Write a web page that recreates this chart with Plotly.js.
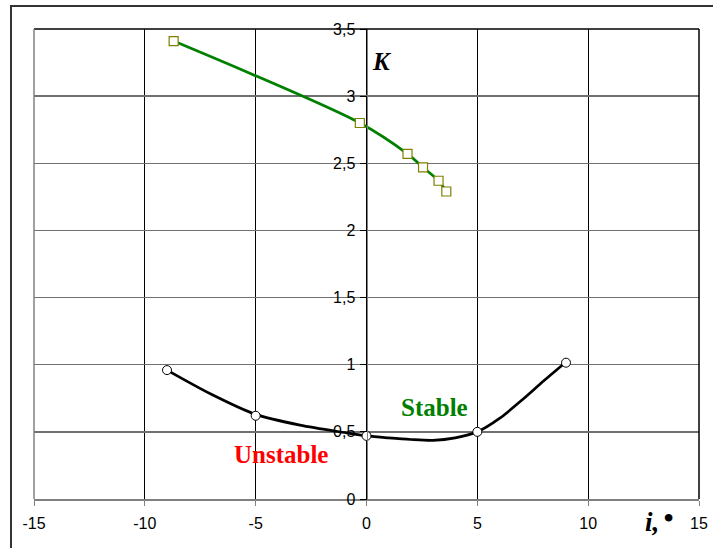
<!DOCTYPE html>
<html>
<head>
<meta charset="utf-8">
<script src="https://cdn.plot.ly/plotly-3.0.1.min.js"></script>
<style>html,body{margin:0;padding:0;background:#fff;}#chart{width:713px;height:548px;}</style>
</head>
<body>
<div id="chart"></div>
<script>
// Stable branch (green squares)
const stableX = [-8.7, -0.3, 1.85, 2.55, 3.25, 3.6];
const stableY = [3.41, 2.80, 2.57, 2.47, 2.37, 2.29];
// Unstable boundary curve (black line)
const curveX = [-9, -7, -5, -3, -1, 0, 1, 2, 3, 4, 5, 6, 7, 8, 9];
const curveY = [0.96, 0.78, 0.63, 0.55, 0.495, 0.47, 0.455, 0.443, 0.437, 0.455, 0.50, 0.60, 0.735, 0.88, 1.02];
// Marked points on the black curve
const markX = [-9, -5, 0, 5, 9];
const markY = [0.96, 0.62, 0.47, 0.50, 1.015];
const xTicks = [-15, -10, -5, 0, 5, 10, 15];
const yTicks = [0, 0.5, 1, 1.5, 2, 2.5, 3, 3.5];
const yTickText = ['0', '0,5', '1', '1,5', '2', '2,5', '3', '3,5'];

const traces = [
  {x: curveX, y: curveY, mode: 'lines', line: {color: '#000000', width: 2.7, shape: 'spline', smoothing: 0.8}, hoverinfo: 'skip'},
  {x: markX, y: markY, mode: 'markers', marker: {symbol: 'circle', size: 9, color: '#ffffff', line: {color: '#000000', width: 1}}},
  {x: stableX, y: stableY, mode: 'lines+markers', line: {color: '#008000', width: 2.7, shape: 'spline', smoothing: 0.8},
   marker: {symbol: 'square', size: 9, color: '#ffffff', line: {color: '#808000', width: 1.2}}}
];

const serif = 'Liberation Serif, Times New Roman, serif';
const tickFont = {family: 'Liberation Sans, Arial, sans-serif', size: 16, color: '#000'};
const layout = {
  width: 713, height: 548,
  margin: {l: 34, r: 14, t: 29, b: 49},
  paper_bgcolor: '#ffffff', plot_bgcolor: '#ffffff',
  showlegend: false,
  font: {family: 'Liberation Sans, Arial, sans-serif', size: 16, color: '#000'},
  xaxis: {
    range: [-15, 15], tickvals: xTicks, ticktext: xTicks.map(String), tickfont: tickFont,
    showgrid: true, gridcolor: '#000000', gridwidth: 1,
    zeroline: false, showline: true, linecolor: '#808080', linewidth: 1.5,
    ticks: 'outside', ticklen: 5, tickcolor: '#808080', ticklabelstandoff: 4,
    fixedrange: true
  },
  yaxis: {
    range: [0, 3.5], tickvals: yTicks, ticktext: yTickText, tickfont: tickFont,
    anchor: 'free', position: 0.5, side: 'left',
    showgrid: true, gridcolor: '#707070', gridwidth: 1.5,
    zeroline: false, showline: true, linecolor: '#808080', linewidth: 1.5,
    ticks: 'outside', ticklen: 7, tickcolor: '#000000', ticklabelstandoff: 1,
    fixedrange: true
  },
  shapes: [
    {type: 'rect', xref: 'paper', yref: 'paper', x0: -0.0346, x1: 1.5, y0: -0.5, y1: 1.0489, line: {color: '#333333', width: 2}},
    {type: 'line', xref: 'paper', yref: 'paper', x0: 0, x1: 1, y0: 1, y1: 1, line: {color: '#000000', width: 1.5}},
    {type: 'line', xref: 'paper', yref: 'paper', x0: 1, x1: 1, y0: 0, y1: 1, line: {color: '#000000', width: 1.5}},
    {type: 'line', xref: 'paper', yref: 'paper', x0: 0, x1: 0, y0: 0, y1: 1, line: {color: '#808080', width: 1.5}}
  ],
  annotations: [
    {x: 0.7, y: 3.26, xref: 'x', yref: 'y', text: '<b><i>K</i></b>', showarrow: false, font: {family: serif, size: 25, color: '#000'}},
    {x: 3.05, y: 0.68, xref: 'x', yref: 'y', text: '<b>Stable</b>', showarrow: false, font: {family: serif, size: 25, color: '#008000'}},
    {x: -3.85, y: 0.33, xref: 'x', yref: 'y', text: '<b>Unstable</b>', showarrow: false, font: {family: serif, size: 25, color: '#ff0000'}},
    {x: 0.943, y: -0.085, xref: 'paper', yref: 'paper', text: '<b><i>i,</i></b>', showarrow: false, font: {family: serif, size: 27, color: '#000'}},
    {x: 0.966, y: -0.083, xref: 'paper', yref: 'paper', text: '•', showarrow: false, font: {family: serif, size: 32, color: '#000'}}
  ]
};

Plotly.newPlot('chart', traces, layout, {displayModeBar: false, staticPlot: true});
</script>
</body>
</html>
